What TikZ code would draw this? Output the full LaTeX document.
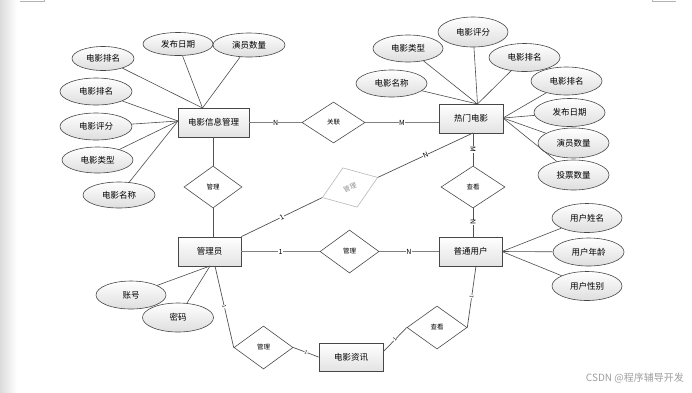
\documentclass[tikz,border=0pt]{standalone}
\usepackage{fontspec}
\setmainfont{Noto Sans CJK SC}
\usetikzlibrary{shapes.geometric,calc}
\begin{document}
\begin{tikzpicture}[x=1pt,y=-1pt,
  attr/.style={ellipse, draw=black!72, line width=0.6pt, top color=white, bottom color=black!13,
    minimum width=71pt, minimum height=27pt, inner sep=0pt, font=\fontsize{8.5}{10}\selectfont},
  ent/.style={rectangle, draw=black!72, line width=0.8pt, top color=white, bottom color=black!11,
    minimum width=64pt, minimum height=29pt, inner sep=0pt, font=\fontsize{8.5}{10}\selectfont},
  rel/.style={diamond, draw=black!70, line width=0.6pt, fill=white, minimum width=60pt,
    minimum height=42pt, inner sep=0pt, font=\fontsize{6.5}{8}\selectfont},
  attrline/.style={draw=black!70, line width=0.6pt},
  relline/.style={draw=black!68, line width=0.7pt},
  grayline/.style={draw=black!50, line width=1.2pt},
  lab/.style={font=\fontsize{7}{8}\selectfont, fill=white, inner sep=0.3pt},
  tiny/.style={font=\fontsize{5}{6}\selectfont, fill=white, inner sep=0.2pt, sloped}
]
\useasboundingbox (0,0) rectangle (692,392);
\shade[left color=black!14, right color=white] (0,0) rectangle (17,392);
\draw[black!30, line width=0.8pt] (20,1.5) -- (44,1.5) -- (44,0);
\draw[black!30, line width=0.8pt] (652,0) -- (652,1.5) -- (676,1.5);

% entities
\node[ent, minimum width=71pt] (mi) at (213.5,122.5) {电影信息管理};
\node[ent] (rm) at (471,118.5) {热门电影};
\node[ent, minimum width=63pt] (gly) at (209.5,251.5) {管理员};
\node[ent, minimum width=63pt] (pt) at (470.5,251.5) {普通用户};
\node[ent, minimum height=28pt] (zx) at (351,357) {电影资讯};

% relationships
\node[rel, minimum width=63pt, minimum height=41pt] (gl) at (333.5,122.5) {关联};
\node[rel, minimum width=58pt] (gl1) at (213,187) {管理};
\node[rel, minimum width=59pt, draw=black!28, text=black!45, rotate=20] (gl2) at (350,187.5) {管理};
\node[rel, minimum width=59pt, minimum height=43pt] (gl3) at (349.5,251.5) {管理};
\node[rel, minimum width=64pt] (ck1) at (473,187) {查看};
\node[rel, minimum width=59pt, minimum height=43pt] (gl4) at (263.5,347.5) {管理};
\node[rel, minimum width=60pt, minimum height=43pt] (ck2) at (437,327.5) {查看};

% attributes of 电影信息管理
\node[attr, minimum width=62pt, minimum height=24pt] (a1) at (103,58.5) {电影排名};
\node[attr, minimum width=70pt, minimum height=23pt] (a2) at (178,44) {发布日期};
\node[attr, minimum width=72pt, minimum height=24pt] (a3) at (249,45) {演员数量};
\node[attr, minimum width=72pt] (a4) at (96,91.5) {电影排名};
\node[attr, minimum width=72pt] (a5) at (96,126.5) {电影评分};
\node[attr, minimum height=26pt] (a6) at (97.5,160) {电影类型};
\node[attr, minimum width=72pt, minimum height=26pt] (a7) at (119,195) {电影名称};

% attributes of 热门电影
\node[attr, minimum width=70pt] (b1) at (408,48.5) {电影类型};
\node[attr, minimum width=70pt, minimum height=30pt] (b2) at (473,32) {电影评分};
\node[attr, minimum height=28pt] (b3) at (524.5,57.5) {电影排名};
\node[attr] (b4) at (391.5,83.5) {电影名称};
\node[attr, minimum height=28pt] (b5) at (566.5,81) {电影排名};
\node[attr, minimum height=28pt] (b6) at (569.5,112.5) {发布日期};
\node[attr, minimum height=30pt] (b7) at (573.5,143) {演员数量};
\node[attr, minimum height=30pt] (b8) at (573.5,175) {投票数量};

% attributes of 普通用户
\node[attr, minimum width=70pt, minimum height=29pt] (c1) at (587,218) {用户姓名};
\node[attr, minimum height=28pt] (c2) at (588.5,252) {用户年龄};
\node[attr, minimum width=70pt, minimum height=29pt] (c3) at (587,286) {用户性别};

% attributes of 管理员
\node[attr, minimum width=70pt, minimum height=28pt] (d1) at (131,295) {账号};
\node[attr, minimum height=29pt] (d2) at (178,317.5) {密码};

% convergence points
\coordinate (miT) at (202.5,108);
\coordinate (miL) at (178,121);
\coordinate (rmT) at (477.5,104);
\coordinate (rmR) at (503,118);
\coordinate (ptR) at (502,251.5);
\coordinate (glyB) at (210,266);
\coordinate (glyB2) at (215,266);
\coordinate (zxE) at (383,352);
\coordinate (ptB) at (476,266);
\coordinate (rmB) at (473,133);

% attribute lines
\foreach \a in {a1,a2,a3} \draw[attrline] (\a) -- (miT);
\foreach \a in {a4,a5,a6,a7} \draw[attrline] (\a) -- (miL);
\foreach \a in {b1,b2,b3,b4} \draw[attrline] (\a) -- (rmT);
\foreach \a in {b5,b6,b7,b8} \draw[attrline] (\a) -- (rmR);
\foreach \a in {c1,c2,c3} \draw[attrline] (\a) -- (ptR);
\foreach \a in {d1,d2} \draw[attrline] (\a) -- (glyB);

% relationship lines
\draw[grayline] (mi.east) -- node[lab]{N} (gl.west);
\draw[grayline] (gl.east) -- node[lab]{M} (gl.east -| rm.west);
\draw[relline] (mi.south -| gl1.north) -- (gl1.north);
\draw[relline] (gl1.south) -- (gl1.south |- gly.north);
\draw[relline] (gly.north east) -- node[lab, sloped]{1} (gl2.west);
\draw[relline] (gl2.east) -- node[lab, sloped]{N} (rmB);
\draw[relline] (ck1.north |- rm.south) -- node[lab, rotate=-90]{M} (ck1.north);
\draw[relline] (ck1.south) -- node[lab, rotate=90]{N} (ck1.south |- pt.north);
\draw[grayline] (gly.east) -- node[lab]{1} (gl3.west);
\draw[grayline] (gl3.east) -- node[lab]{N} (pt.west);
\draw[relline] (glyB2) -- node[tiny]{1} (gl4.west);
\draw[relline] (gl4.east) -- node[tiny]{1} (zx.west);
\draw[relline] (zxE) -- node[tiny]{1} (ck2.west);
\draw[relline] (ck2.east) -- node[tiny]{1} (ptB);

% watermark
\node[anchor=east, text=black!38, font=\fontsize{10}{12}\selectfont, inner sep=0pt] (wm) at (684,378) {CSDN @程序辅导开发};
\end{tikzpicture}
\end{document}
